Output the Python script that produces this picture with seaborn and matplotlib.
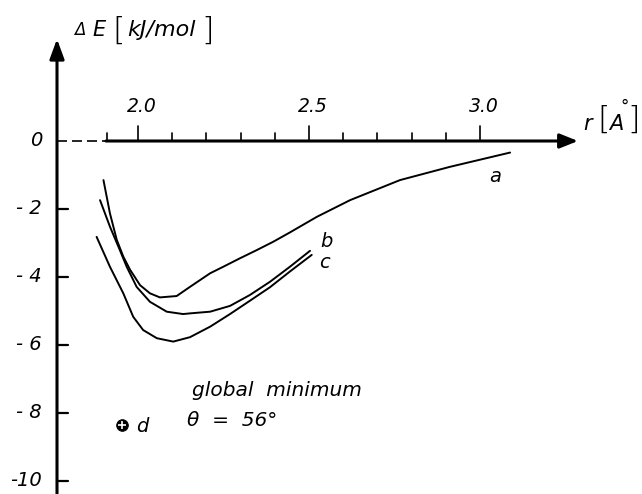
import numpy as np
import pandas as pd
import matplotlib
matplotlib.use("Agg")
import matplotlib.pyplot as plt
import seaborn as sns

# ---------------- data ----------------
r_a = [1.899, 1.918, 1.938, 1.957, 1.977, 2.006, 2.035, 2.064, 2.113, 2.152,
       2.211, 2.249, 2.298, 2.347, 2.396, 2.444, 2.523, 2.620, 2.766, 2.912, 3.088]
E_a = [-1.15, -2.13, -2.91, -3.40, -3.79, -4.24, -4.48, -4.60, -4.56, -4.29,
       -3.89, -3.70, -3.45, -3.21, -2.96, -2.69, -2.23, -1.74, -1.15, -0.76, -0.34]

r_b = [1.889, 1.918, 1.947, 1.967, 1.996, 2.035, 2.084, 2.132, 2.152, 2.211,
       2.269, 2.327, 2.386, 2.444, 2.503]
E_b = [-1.74, -2.52, -3.21, -3.70, -4.29, -4.73, -5.02, -5.09, -5.07, -5.02,
       -4.85, -4.53, -4.14, -3.70, -3.23]

r_c = [1.879, 1.918, 1.957, 1.986, 2.015, 2.055, 2.103, 2.152, 2.211, 2.269,
       2.327, 2.386, 2.444, 2.508]
E_c = [-2.82, -3.70, -4.48, -5.17, -5.56, -5.80, -5.90, -5.77, -5.46, -5.09,
       -4.70, -4.30, -3.84, -3.35]

r_d = [1.952]
E_d = [-8.35]

x_major = [2.0, 2.5, 3.0]
x_major_labels = ["2.0", "2.5", "3.0"]
x_minor = [1.91, 2.1, 2.2, 2.3, 2.4, 2.6, 2.7, 2.8, 2.9]
y_ticks = [0, -2, -4, -6, -8, -10]
y_tick_labels = ["0", "- 2", "- 4", "- 6", "- 8", "-10"]

df = pd.concat([
    pd.DataFrame({"r": r_a, "E": E_a, "curve": "a"}),
    pd.DataFrame({"r": r_b, "E": E_b, "curve": "b"}),
    pd.DataFrame({"r": r_c, "E": E_c, "curve": "c"}),
], ignore_index=True)
df_d = pd.DataFrame({"r": r_d, "E": E_d})

# ---------------- figure ----------------
sns.set_theme(style="white")
plt.rcParams["font.family"] = ["DejaVu Sans"]

W, H = 642, 494
fig = plt.figure(figsize=(W / 100, H / 100), dpi=100)
ax = fig.add_axes([0, 0, 1, 1])
ax.set_axis_off()

# pixel <-> data mapping (2.0 at px 138, 342 px per Angstrom; 0 at py 141, 34 px per kJ/mol)
def X(px):
    return 2.0 + (px - 138) / 342.0

def Y(py):
    return -(py - 141) / 34.0

ax.set_xlim(X(0), X(W))
ax.set_ylim(Y(H), Y(0))

def F(px, py):
    return (px / W, 1 - py / H)

txt = dict(color="black", style="italic", transform=fig.transFigure)
brk = dict(color="black", transform=fig.transFigure, fontweight="light")

# curves
sns.lineplot(data=df, x="r", y="E", units="curve", estimator=None, sort=False,
             color="black", lw=1.4, ax=ax, legend=False)

# point d
sns.scatterplot(data=df_d, x="r", y="E", marker="o", s=70, color="black",
                edgecolor="black", ax=ax, legend=False, zorder=5)
sns.scatterplot(data=df_d, x="r", y="E", marker="+", s=35, color="white",
                linewidth=1.2, ax=ax, legend=False, zorder=6)

# ---------------- hand-drawn style axes ----------------
axis_lw = 2.2
ax.annotate("", xy=(X(578), 0), xytext=(X(106), 0),
            arrowprops=dict(arrowstyle="-|>,head_length=0.55,head_width=0.22",
                            lw=axis_lw, color="black", mutation_scale=20,
                            shrinkA=0, shrinkB=0))
ax.plot([X(57), X(106)], [0, 0], color="black", lw=1.2, dashes=(6, 3))
ax.annotate("", xy=(X(57), Y(39)), xytext=(X(57), Y(H + 5)),
            arrowprops=dict(arrowstyle="-|>,head_length=0.6,head_width=0.22",
                            lw=axis_lw, color="black", mutation_scale=20,
                            shrinkA=0, shrinkB=0))

for xv in x_major:
    ax.plot([xv, xv], [0, 15 / 34.0], color="black", lw=1.2)
for xv in x_minor:
    ax.plot([xv, xv], [0, 8 / 34.0], color="black", lw=1.2)
for xv, lab in zip(x_major, x_major_labels):
    ax.text(xv + 0.012, Y(106), lab, ha="center", va="center", fontsize=13.5,
            style="italic", color="black")

for yv, lab in zip(y_ticks, y_tick_labels):
    if yv != 0:
        ax.plot([X(57), X(68)], [yv, yv], color="black", lw=1.6)
    ax.text(X(42), yv, lab, ha="right", va="center", fontsize=14,
            style="italic", color="black")

# axis titles
fig.text(*F(74, 30), "Δ", fontsize=12, ha="left", va="center", **txt)
fig.text(*F(92, 30), "E", fontsize=15, ha="left", va="center", **txt)
fig.text(*F(112, 31), "[", fontsize=23, ha="left", va="center", **brk)
fig.text(*F(127, 30), "kJ/mol", fontsize=16, ha="left", va="center", **txt)
fig.text(*F(201, 31), "]", fontsize=23, ha="left", va="center", **brk)

fig.text(*F(583, 124), "r", fontsize=15, ha="left", va="center", **txt)
fig.text(*F(597, 120), "[", fontsize=23, ha="left", va="center", **brk)
fig.text(*F(609, 124), "A", fontsize=15, ha="left", va="center", **txt)
fig.text(*F(620, 107), "°", fontsize=12, ha="left", va="center", **txt)
fig.text(*F(627, 120), "]", fontsize=23, ha="left", va="center", **brk)

# curve labels
fig.text(*F(495, 176), "a", fontsize=14, ha="center", va="center", **txt)
fig.text(*F(326, 241), "b", fontsize=14, ha="center", va="center", **txt)
fig.text(*F(324, 262), "c", fontsize=14, ha="center", va="center", **txt)
fig.text(*F(142, 426), "d", fontsize=14, ha="center", va="center", **txt)

# annotation
fig.text(*F(192, 390), "global  minimum", fontsize=14.5, ha="left", va="center", **txt)
fig.text(*F(187, 420), "θ  =  56°", fontsize=14.5, ha="left", va="center", **txt)

fig.savefig("out.png", dpi=100)
